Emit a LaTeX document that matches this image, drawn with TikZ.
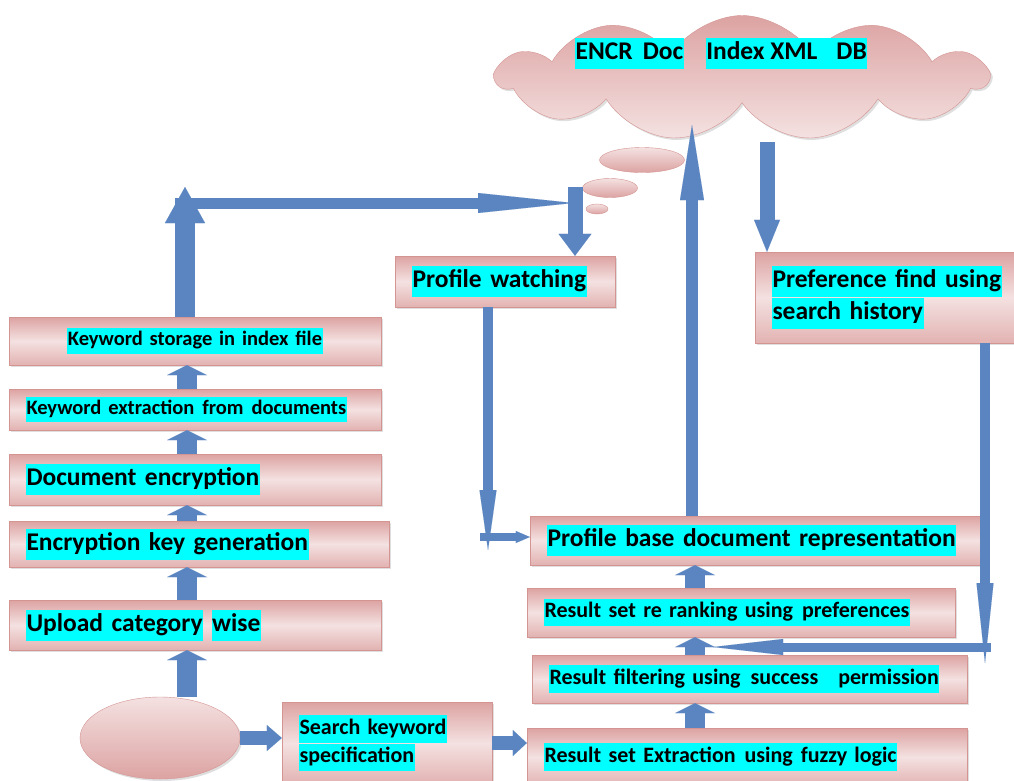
\documentclass[tikz,border=0pt]{standalone}
\usepackage{fontspec}
\setmainfont{Carlito}
\usetikzlibrary{arrows.meta,shapes.geometric,shapes.symbols,shadows}
\definecolor{crosa}{HTML}{DCA3A2}
\definecolor{crosac}{HTML}{F4E1E1}
\definecolor{crosab}{HTML}{D49492}
\definecolor{cazul}{HTML}{5A85C1}
\definecolor{cresalte}{HTML}{00FFFF}
\newcommand{\resalte}[1]{{\setlength{\fboxsep}{0.5pt}\colorbox{cresalte}{\strut #1}}}
\tikzset{
  caja/.style={draw=crosab,top color=crosa,bottom color=crosa!75!crosac,middle color=crosac,
               inner xsep=17pt,align=left,
               drop shadow={shadow xshift=2pt,shadow yshift=-2pt,opacity=0.25}},
  tgrande/.style={font=\fontsize{25.5}{30}\selectfont\bfseries},
  tmedio/.style={font=\fontsize{22}{26.5}\selectfont\bfseries},
  tchico/.style={font=\fontsize{20.5}{24.5}\selectfont\bfseries},
  nube/.style={cloud,cloud puffs=11,cloud puff arc=115,cloud ignores aspect,draw=crosab,
               top color=crosa,bottom color=crosac,
               drop shadow={shadow xshift=2pt,shadow yshift=-2pt,opacity=0.25}},
  burbuja/.style={ellipse,draw=crosab,top color=crosac,bottom color=crosa,inner sep=0pt},
  flecha/.style n args={3}{draw=cazul,line width=#1,
               -{Triangle[width=#2,length=#3,line width=0.01pt]}},
  subida/.style={flecha={20pt}{40pt}{10pt}},
}
\begin{document}
\begin{tikzpicture}[x=1pt,y=-1pt]
\fill[white] (0,0) rectangle (1014,780);
\useasboundingbox (0,0) rectangle (1014,780);

% columna izquierda
\node[caja,tchico,align=center,text width=338pt,minimum height=48pt] (kstore) at (195,341)
  {\resalte{Keyword storage in index file}};
\node[caja,tchico,text width=338pt,minimum height=41pt] (kextr) at (195,409.5)
  {\resalte{Keyword extraction\hspace{8pt}from\hspace{8pt}documents}};
\node[caja,tgrande,text width=338pt,minimum height=51pt] (denc) at (195,479.5)
  {\resalte{Document encryption}};
\node[caja,tgrande,text width=346pt,minimum height=46pt] (keygen) at (199,544)
  {\resalte{Encryption key generation}};
\node[caja,tgrande,text width=338pt,minimum height=50pt] (upload) at (195,625)
  {\resalte{Upload category} \resalte{wise}};
\node[burbuja,minimum width=160pt,minimum height=82pt,
      drop shadow={shadow xshift=2pt,shadow yshift=-2pt,opacity=0.25}] (inicio) at (160,738) {};
\node[caja,tmedio,text width=176pt,minimum height=82pt] (search) at (387,743)
  {\resalte{Search keyword}\\\resalte{specification}};

% nube y columna derecha
\node[nube,minimum width=490pt,minimum height=125pt] (db) at (742,78) {};
\node[tgrande,anchor=west,inner sep=0pt] (dbtexto) at (575,53)
  {\resalte{ENCR\hspace{10pt}Doc}\hspace{22pt}\resalte{Index XML\hspace{19pt}DB}};
\node[burbuja,minimum width=85pt,minimum height=25pt] (b1) at (642,160) {};
\node[burbuja,minimum width=55pt,minimum height=19pt] (b2) at (610,188) {};
\node[burbuja,minimum width=22pt,minimum height=10pt] (b3) at (597,209) {};

\node[caja,tgrande,text width=186pt,minimum height=51pt] (pwatch) at (505,281.5)
  {\resalte{Profile watching}};
\node[caja,tgrande,text width=241pt,minimum height=91pt] (pref) at (892.5,297.5)
  {\resalte{Preference find using}\\\resalte{search history}};
\node[caja,tgrande,text width=416pt,minimum height=49pt] (pbase) at (755,540.5)
  {\resalte{Profile base document representation}};
\node[caja,tmedio,text width=394pt,minimum height=49pt] (rerank) at (741,612.5)
  {\resalte{Result set re ranking using\hspace{9pt}preferences}};
\node[caja,tmedio,text width=401pt,minimum height=48pt] (rfilt) at (749.5,679)
  {\resalte{Result filtering using\hspace{10pt}success\hspace{20pt}permission}};
\node[caja,tmedio,text width=406pt,minimum height=58pt] (rextr) at (747,757)
  {\resalte{Result set Extraction\hspace{9pt}using\hspace{8pt}fuzzy\hspace{7pt}logic}};

% puntos de paso
\coordinate (tl) at (185,187);
\coordinate (hl) at (175,203);
\coordinate (hr) at (573,203);
\coordinate (bub) at (575,187);
\coordinate (pw) at (488,550);
\coordinate (pwe) at (480,537);
\coordinate (up) at (692,125);
\coordinate (dn) at (767,142);
\coordinate (pr) at (985,663);
\coordinate (prh) at (991,647);
\coordinate (prt) at (713,647);
\coordinate (cizq) at (187,0);
\coordinate (cder) at (695,0);

\draw[flecha={20pt}{40pt}{36pt}] (tl |- kstore.north) -- (tl);
\draw[flecha={11pt}{20pt}{95pt}] (hl) -- (hr);
\draw[flecha={15pt}{33pt}{22pt}] (bub) -- (bub |- pwatch.north);
\draw[flecha={10pt}{17pt}{60pt}] (pw |- pwatch.south) -- (pw);
\draw[flecha={8pt}{12pt}{14pt}] (pwe) -- (pwe -| pbase.west);
\draw[flecha={12pt}{24pt}{75pt}] (up |- pbase.north) -- (up);
\draw[flecha={15pt}{26pt}{32pt}] (dn) -- (dn |- pref.north);
\draw[flecha={10pt}{17pt}{80pt}] (pr |- pref.south) -- (pr);
\draw[flecha={9pt}{16pt}{70pt}] (prh) -- (prt);

\draw[subida] (cizq |- kextr.north) -- (cizq |- kstore.south);
\draw[subida] (cizq |- denc.north) -- (cizq |- kextr.south);
\draw[subida] (cizq |- keygen.north) -- (cizq |- denc.south);
\draw[subida] (cizq |- upload.north) -- (cizq |- keygen.south);
\draw[subida] (cizq |- inicio.north) -- (cizq |- upload.south);
\draw[subida] (cder |- rerank.north) -- (cder |- pbase.south);
\draw[subida] (cder |- rfilt.north) -- (cder |- rerank.south);
\draw[subida] (cder |- rextr.north) -- (cder |- rfilt.south);

\draw[flecha={14pt}{26pt}{15pt}] (inicio.east) -- (inicio.east -| search.west);
\draw[flecha={14pt}{26pt}{14pt}] (search.east) -- (search.east -| rextr.west);

\end{tikzpicture}
\end{document}
